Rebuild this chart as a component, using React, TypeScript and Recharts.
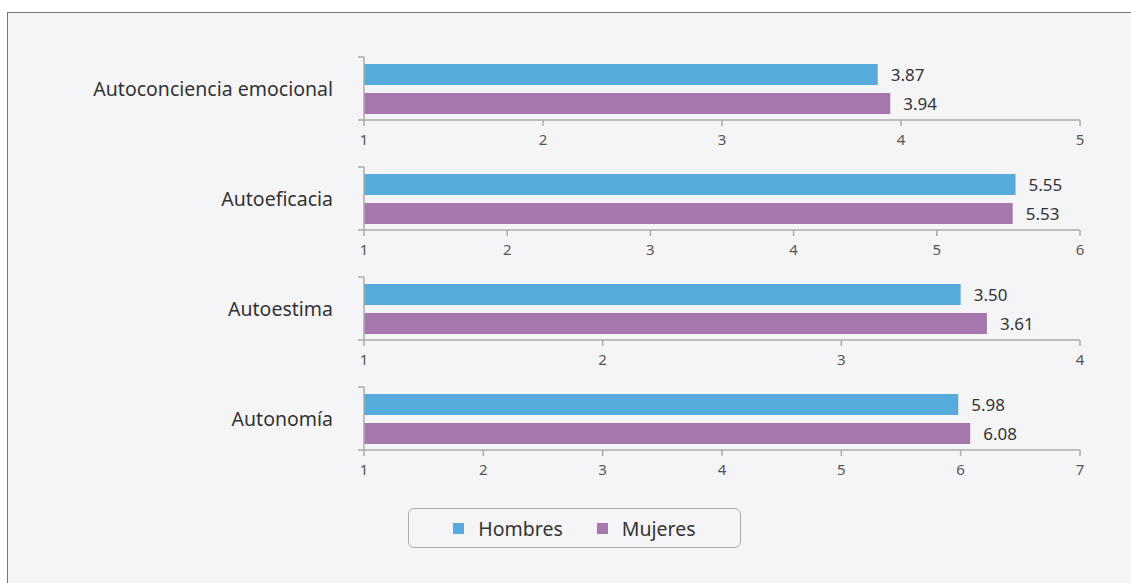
import { Bar, BarChart, LabelList, XAxis, YAxis } from 'recharts'

const categories = ['Autoconciencia emocional', 'Autoeficacia', 'Autoestima', 'Autonomía']
const hombres = [3.87, 5.55, 3.5, 5.98]
const mujeres = [3.94, 5.53, 3.61, 6.08]
const scaleMax = [5, 6, 4, 7]
const scaleTicks = [
  [1, 2, 3, 4, 5],
  [1, 2, 3, 4, 5, 6],
  [1, 2, 3, 4],
  [1, 2, 3, 4, 5, 6, 7],
]

const series = [
  { key: 'hombres', name: 'Hombres', color: '#56abdd' },
  { key: 'mujeres', name: 'Mujeres', color: '#a577ad' },
]

const FONT = '"Noto Sans", sans-serif'
const AXIS = '#ababab'
const CHART_W = 1131
const CHART_H = 110
const M_TOP = 10
const PLOT_LEFT = 364
const PLOT_H = 63

function CategoryTick(props: any) {
  const { y, payload } = props
  return (
    <g>
      <line x1={PLOT_LEFT - 6} y1={M_TOP} x2={PLOT_LEFT} y2={M_TOP} stroke={AXIS} strokeWidth={1.5} />
      <line x1={PLOT_LEFT - 6} y1={M_TOP + PLOT_H} x2={PLOT_LEFT} y2={M_TOP + PLOT_H} stroke={AXIS} strokeWidth={1.5} />
      <text x={PLOT_LEFT - 31} y={y} textAnchor="end" dominantBaseline="central" fill="#333" fontSize={19.5} fontFamily={FONT}>
        {payload.value}
      </text>
    </g>
  )
}

function ValueTick(props: any) {
  const { x, y, payload } = props
  return (
    <text x={x} y={y + 15} textAnchor="middle" fill="#555" fontSize={15} fontFamily={FONT}>
      {payload.value}
    </text>
  )
}

function Panel({ index }: { index: number }) {
  const data = [{ name: categories[index], hombres: hombres[index], mujeres: mujeres[index] }]
  return (
    <BarChart
      width={CHART_W}
      height={CHART_H}
      data={data}
      layout="vertical"
      margin={{ top: M_TOP, right: 51, bottom: 7, left: 0 }}
      barSize={21}
      barGap={8}
    >
      <XAxis
        type="number"
        domain={[1, scaleMax[index]]}
        ticks={scaleTicks[index]}
        allowDataOverflow
        height={30}
        axisLine={{ stroke: AXIS, strokeWidth: 1.5 }}
        tickLine={{ stroke: AXIS, strokeWidth: 1.5 }}
        tickSize={6}
        tickMargin={4}
        tick={<ValueTick />}
      />
      <YAxis
        type="category"
        dataKey="name"
        width={PLOT_LEFT}
        axisLine={{ stroke: AXIS, strokeWidth: 1.5 }}
        tickLine={false}
        tick={<CategoryTick />}
      />
      {series.map((s) => (
        <Bar key={s.key} dataKey={s.key} name={s.name} fill={s.color} isAnimationActive={false}>
          <LabelList
            dataKey={s.key}
            position="right"
            offset={13}
            formatter={(v: any) => Number(v).toFixed(2)}
            style={{ fill: '#333', fontSize: 17, fontFamily: FONT }}
          />
        </Bar>
      ))}
    </BarChart>
  )
}

export default function App() {
  return (
    <div style={{ position: 'absolute', left: 0, top: 0, width: 1131, height: 583, overflow: 'hidden', background: '#fff' }}>
      <div
        style={{
          position: 'absolute',
          left: 7,
          top: 12,
          width: 1200,
          height: 650,
          border: '1.5px solid #777',
          background: '#f5f5f7',
        }}
      />
      <div style={{ position: 'absolute', left: 0, top: 47 }}>
        {categories.map((_, i) => (
          <Panel key={i} index={i} />
        ))}
      </div>
      <div
        style={{
          position: 'absolute',
          left: 408,
          top: 508,
          width: 333,
          height: 40,
          boxSizing: 'border-box',
          border: `1.5px solid ${AXIS}`,
          borderRadius: 6,
          display: 'flex',
          alignItems: 'center',
          justifyContent: 'center',
          gap: 34,
          fontFamily: FONT,
          fontSize: 19.5,
          color: '#333',
        }}
      >
        {series.map((s) => (
          <div key={s.key} style={{ display: 'flex', alignItems: 'center', gap: 14 }}>
            <span style={{ width: 11, height: 11, background: s.color, display: 'inline-block' }} />
            <span>{s.name}</span>
          </div>
        ))}
      </div>
    </div>
  )
}
